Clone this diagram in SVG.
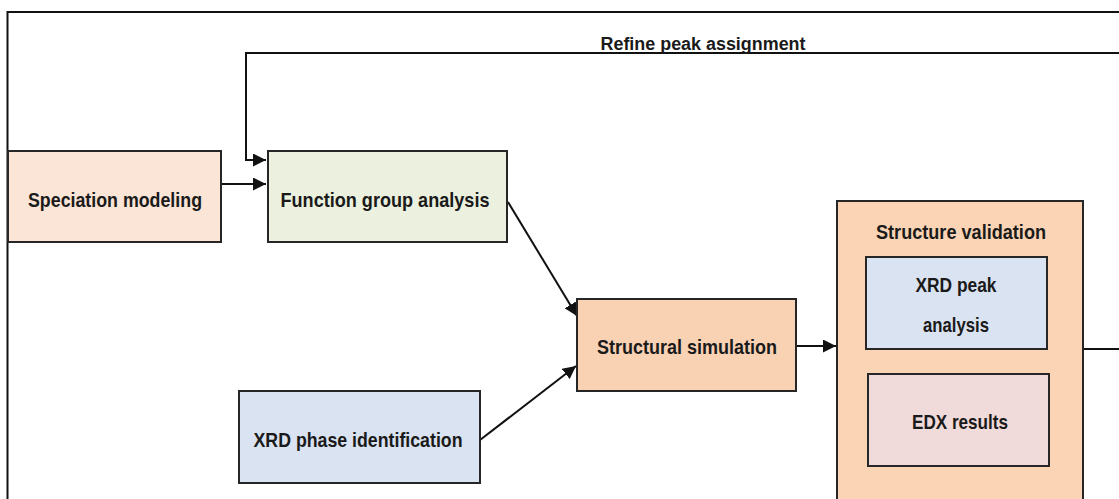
<svg xmlns="http://www.w3.org/2000/svg" width="1119" height="499" viewBox="0 0 1119 499">
<defs>
<style>
.box{stroke:#262626;stroke-width:2}
.lbl{font-family:"Liberation Sans",Arial,sans-serif;font-weight:bold;font-size:21px;fill:#1a1a1a;text-anchor:middle}
.ln{fill:none;stroke:#111;stroke-width:2}
</style>
<marker id="ah" viewBox="0 0 10 10" refX="10" refY="5" markerWidth="6.5" markerHeight="6.5" orient="auto" markerUnits="strokeWidth">
<path d="M0,0 L10,5 L0,10 z" fill="#111"/>
</marker>
</defs>
<rect width="1119" height="499" fill="#fff"/>
<g id="frame">
<path class="ln" d="M7.5,499 V12 H1119"/>
</g>
<g id="connectors">
<path class="ln" d="M1119,53 H246 V160 H266" marker-end="url(#ah)"/>
<text class="lbl" x="703" y="50" style="font-size:18px" textLength="205" lengthAdjust="spacingAndGlyphs">Refine peak assignment</text>
<path class="ln" d="M221,184 H266" marker-end="url(#ah)"/>
<path class="ln" d="M508,202 L577,316" marker-end="url(#ah)"/>
<path class="ln" d="M480,440 L576,366" marker-end="url(#ah)"/>
<path class="ln" d="M796,346 H836" marker-end="url(#ah)"/>
<path class="ln" d="M1083,349 H1119"/>
</g>
<g id="speciation">
<rect class="box" x="8" y="151" width="213" height="91" fill="#FBE5D6"/>
<text class="lbl" x="115" y="207" textLength="174" lengthAdjust="spacingAndGlyphs">Speciation modeling</text>
</g>
<g id="function-group">
<rect class="box" x="268" y="151" width="239" height="91" fill="#EBF1DE"/>
<text class="lbl" x="385" y="207" textLength="209" lengthAdjust="spacingAndGlyphs">Function group analysis</text>
</g>
<g id="structural-simulation">
<rect class="box" x="577" y="299" width="219" height="92" fill="#F9D2B4"/>
<text class="lbl" x="687" y="354" textLength="180" lengthAdjust="spacingAndGlyphs">Structural simulation</text>
</g>
<g id="xrd-phase">
<rect class="box" x="239" y="391" width="241" height="92" fill="#DAE3F1"/>
<text class="lbl" x="358" y="447" textLength="209" lengthAdjust="spacingAndGlyphs">XRD phase identification</text>
</g>
<g id="structure-validation">
<rect class="box" x="837" y="201" width="246" height="310" fill="#FAD4B4"/>
<text class="lbl" x="961" y="239" textLength="170" lengthAdjust="spacingAndGlyphs">Structure validation</text>
</g>
<g id="xrd-peak">
<rect class="box" x="866" y="257" width="181" height="92" fill="#DAE3F1"/>
<text class="lbl" x="956" y="292" textLength="81" lengthAdjust="spacingAndGlyphs">XRD peak</text>
<text class="lbl" x="956" y="332" textLength="66" lengthAdjust="spacingAndGlyphs">analysis</text>
</g>
<g id="edx">
<rect class="box" x="868" y="374" width="181" height="92" fill="#F1DBDA"/>
<text class="lbl" x="960" y="429" textLength="96" lengthAdjust="spacingAndGlyphs">EDX results</text>
</g>
</svg>
